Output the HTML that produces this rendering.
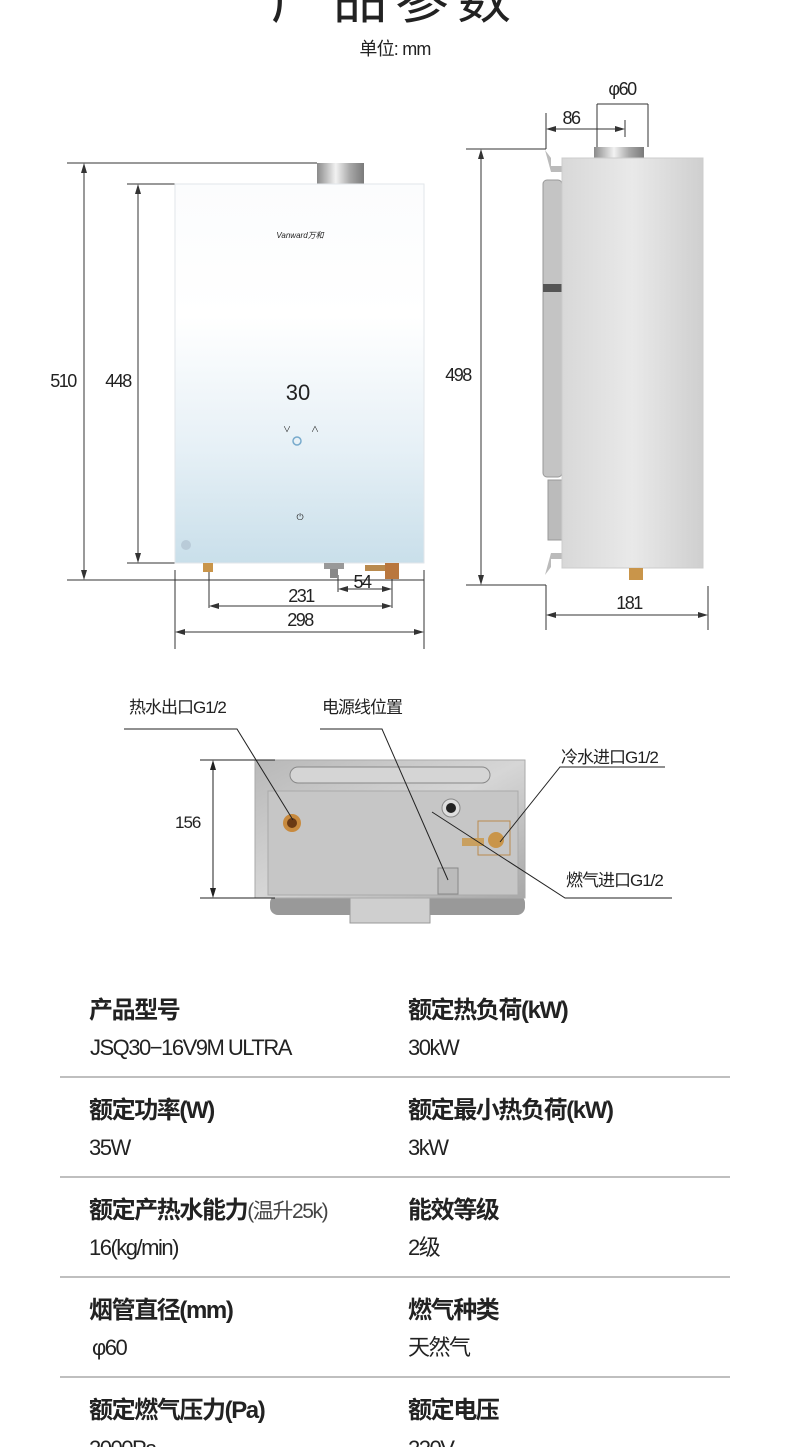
<!DOCTYPE html>
<html><head><meta charset="utf-8"><style>
html,body{margin:0;padding:0;background:#fff;}
svg{display:block;}
text{font-family:"Liberation Sans","Noto Sans CJK SC",sans-serif;fill:#222;}
</style></head><body>
<svg width="790" height="1447" viewBox="0 0 790 1447" xmlns="http://www.w3.org/2000/svg">
<defs>
<linearGradient id="glass" x1="0" y1="0" x2="0" y2="1">
<stop offset="0" stop-color="#fbfcfd"/><stop offset="0.35" stop-color="#ffffff"/><stop offset="0.7" stop-color="#e6f0f6"/><stop offset="1" stop-color="#c9dfea"/>
</linearGradient>
<linearGradient id="steel" x1="0" y1="0" x2="1" y2="0">
<stop offset="0" stop-color="#d8d8d8"/><stop offset="0.5" stop-color="#e9e9e9"/><stop offset="1" stop-color="#cfcfcf"/>
</linearGradient>
<linearGradient id="pipe" x1="0" y1="0" x2="1" y2="0">
<stop offset="0" stop-color="#8a8a8a"/><stop offset="0.4" stop-color="#f2f2f2"/><stop offset="0.7" stop-color="#a8a8a8"/><stop offset="1" stop-color="#7a7a7a"/>
</linearGradient>
<linearGradient id="panel" x1="0" y1="0" x2="1" y2="1">
<stop offset="0" stop-color="#b8b8b8"/><stop offset="0.5" stop-color="#d6d6d6"/><stop offset="1" stop-color="#a8a8a8"/>
</linearGradient>
</defs>

<text x="395" y="18" font-size="54" text-anchor="middle" letter-spacing="8">产品参数</text>
<text x="395" y="55" font-size="18" text-anchor="middle" letter-spacing="-0.8">单位: mm</text>

<g stroke="#333" stroke-width="1" fill="none">
<line x1="67" y1="163" x2="317" y2="163"/>
<line x1="67" y1="580" x2="424" y2="580"/>
<line x1="84" y1="165" x2="84" y2="578"/>
<line x1="127" y1="184" x2="175" y2="184"/>
<line x1="127" y1="563" x2="175" y2="563"/>
<line x1="138" y1="186" x2="138" y2="561"/>
<line x1="175" y1="570" x2="175" y2="649"/>
<line x1="424" y1="570" x2="424" y2="649"/>
<line x1="209" y1="570" x2="209" y2="608"/>
<line x1="392" y1="570" x2="392" y2="608"/>
<line x1="338" y1="575" x2="338" y2="592"/>
<line x1="340" y1="589" x2="390" y2="589"/>
<line x1="211" y1="606" x2="390" y2="606"/>
<line x1="177" y1="632" x2="422" y2="632"/>
<line x1="466" y1="149" x2="546" y2="149"/>
<line x1="466" y1="585" x2="546" y2="585"/>
<line x1="481" y1="151" x2="481" y2="583"/>
<line x1="546" y1="113" x2="546" y2="149"/>
<line x1="548" y1="129" x2="623" y2="129"/>
<line x1="625" y1="120" x2="625" y2="137"/>
<line x1="597" y1="104" x2="597" y2="147"/>
<line x1="597" y1="104" x2="648" y2="104"/>
<line x1="648" y1="104" x2="648" y2="147"/>
<line x1="546" y1="585" x2="546" y2="630"/>
<line x1="708" y1="586" x2="708" y2="630"/>
<line x1="548" y1="615" x2="706" y2="615"/>
</g>
<g fill="#333">
<path d="M84 163 l-3 10 h6z"/><path d="M84 580 l-3 -10 h6z"/>
<path d="M138 184 l-3 10 h6z"/><path d="M138 563 l-3 -10 h6z"/>
<path d="M481 149 l-3 10 h6z"/><path d="M481 585 l-3 -10 h6z"/>
<path d="M338 589 l10 -3 v6z"/><path d="M392 589 l-10 -3 v6z"/>
<path d="M209 606 l10 -3 v6z"/><path d="M392 606 l-10 -3 v6z"/>
<path d="M175 632 l10 -3 v6z"/><path d="M424 632 l-10 -3 v6z"/>
<path d="M546 129 l10 -3 v6z"/><path d="M625 129 l-10 -3 v6z"/>
<path d="M546 615 l10 -3 v6z"/><path d="M708 615 l-10 -3 v6z"/>
</g>
<g font-size="18" text-anchor="middle" letter-spacing="-1.5" fill="#333">
<text x="63" y="387">510</text><text x="118" y="387">448</text>
<text x="362" y="588">54</text><text x="301" y="602">231</text><text x="300" y="626">298</text>
<text x="458" y="381">498</text><text x="571" y="124">86</text><text x="622" y="95">φ60</text>
<text x="629" y="609">181</text>
</g>

<rect x="317" y="163" width="47" height="21" fill="url(#pipe)"/>
<rect x="175" y="184" width="249" height="379" fill="url(#glass)" stroke="#e2e6ea"/>
<text x="300" y="238" font-size="8" fill="#555" text-anchor="middle" font-style="italic">Vanward万和</text>
<text x="298" y="400" font-size="22" fill="#8ab" text-anchor="middle">30</text>
<text x="283" y="432" font-size="8" fill="#99a">∨</text><text x="311" y="432" font-size="8" fill="#99a">∧</text>
<circle cx="297" cy="441" r="4" fill="none" stroke="#7ac" stroke-width="1.5"/>
<text x="300" y="520" font-size="9" fill="#888" text-anchor="middle">⏻</text>
<circle cx="186" cy="545" r="5" fill="#b9cbd8"/>
<rect x="203" y="563" width="10" height="9" fill="#c9954a"/>
<rect x="324" y="563" width="20" height="6" fill="#999"/><rect x="330" y="569" width="8" height="9" fill="#888"/>
<rect x="385" y="563" width="14" height="16" fill="#b9773e"/>
<rect x="365" y="565" width="20" height="6" fill="#b98a4e"/>

<rect x="594" y="147" width="50" height="11" fill="url(#pipe)"/>
<path d="M545 150 l6 8 v8 h11 v6 h-11 z" fill="#bbb"/>
<rect x="543" y="180" width="19" height="297" rx="4" fill="#c4c4c4" stroke="#999"/>
<rect x="543" y="284" width="19" height="8" fill="#555"/>
<rect x="548" y="480" width="14" height="60" fill="#bbb" stroke="#999"/>
<path d="M545 575 l6 -8 v-8 h11 v-6 h-11 z" fill="#bbb"/>
<rect x="562" y="158" width="141" height="410" fill="url(#steel)" stroke="#ccc"/>
<rect x="629" y="568" width="14" height="12" fill="#c9954a"/>

<rect x="270" y="895" width="255" height="20" rx="8" fill="#999"/>
<rect x="350" y="893" width="80" height="30" fill="#cfcfcf" stroke="#999"/>
<rect x="255" y="760" width="270" height="138" fill="url(#panel)" stroke="#aaa"/>
<rect x="290" y="767" width="200" height="16" rx="8" fill="#d5d5d5" stroke="#888"/>
<rect x="268" y="791" width="250" height="104" fill="#c6c6c6" stroke="#aaa"/>
<circle cx="292" cy="823" r="9" fill="#c88a3e"/><circle cx="292" cy="823" r="5" fill="#6b3a14"/>
<circle cx="451" cy="808" r="9" fill="#ddd" stroke="#888"/><circle cx="451" cy="808" r="5" fill="#222"/>
<rect x="478" y="821" width="32" height="34" fill="none" stroke="#b98a4e"/>
<circle cx="496" cy="840" r="8" fill="#c9954a"/><rect x="462" y="838" width="22" height="8" fill="#c9a060"/>
<rect x="438" y="868" width="20" height="26" fill="#bbb" stroke="#888"/>

<g stroke="#222" stroke-width="1" fill="none">
<polyline points="124,729 237,729 293,820"/>
<polyline points="320,729 382,729 448,880"/>
<polyline points="665,767 560,767 500,842"/>
<polyline points="672,898 565,898 432,812"/>
<line x1="200" y1="760" x2="275" y2="760"/>
<line x1="200" y1="898" x2="275" y2="898"/>
<line x1="213" y1="762" x2="213" y2="896"/>
</g>
<path d="M213 760 l-3 10 h6z M213 898 l-3 -10 h6z" fill="#222"/>
<g font-size="17" letter-spacing="-1">
<text x="129" y="713">热水出口G1/2</text>
<text x="322" y="713">电源线位置</text>
<text x="561" y="763">冷水进口G1/2</text>
<text x="566" y="886">燃气进口G1/2</text>
<text x="175" y="828">156</text>
</g>

<g stroke="#aaa" stroke-width="1.5">
<line x1="60" y1="1077" x2="730" y2="1077"/>
<line x1="60" y1="1177" x2="730" y2="1177"/>
<line x1="60" y1="1277" x2="730" y2="1277"/>
<line x1="60" y1="1377" x2="730" y2="1377"/>
</g>
<g font-size="24" font-weight="bold" letter-spacing="-1.4">
<text x="89" y="1018">产品型号</text><text x="408" y="1018">额定热负荷(kW)</text>
<text x="89" y="1118">额定功率(W)</text><text x="408" y="1118">额定最小热负荷(kW)</text>
<text x="89" y="1218">额定产热水能力<tspan font-weight="normal" font-size="21" fill="#444">(温升25k)</tspan></text><text x="408" y="1218">能效等级</text>
<text x="89" y="1318">烟管直径(mm)</text><text x="408" y="1318">燃气种类</text>
<text x="89" y="1418">额定燃气压力(Pa)</text><text x="408" y="1418">额定电压</text>
</g>
<g font-size="22" fill="#333" letter-spacing="-1.5">
<text x="90" y="1055">JSQ30−16V9M ULTRA</text><text x="408" y="1055">30kW</text>
<text x="89" y="1155">35W</text><text x="408" y="1155">3kW</text>
<text x="89" y="1255">16(kg/min)</text><text x="408" y="1255">2级</text>
<text x="92" y="1355">φ60</text><text x="408" y="1355">天然气</text>
<text x="89" y="1456">2000Pa</text><text x="408" y="1456">220V~</text>
</g>
</svg>
</body></html>
